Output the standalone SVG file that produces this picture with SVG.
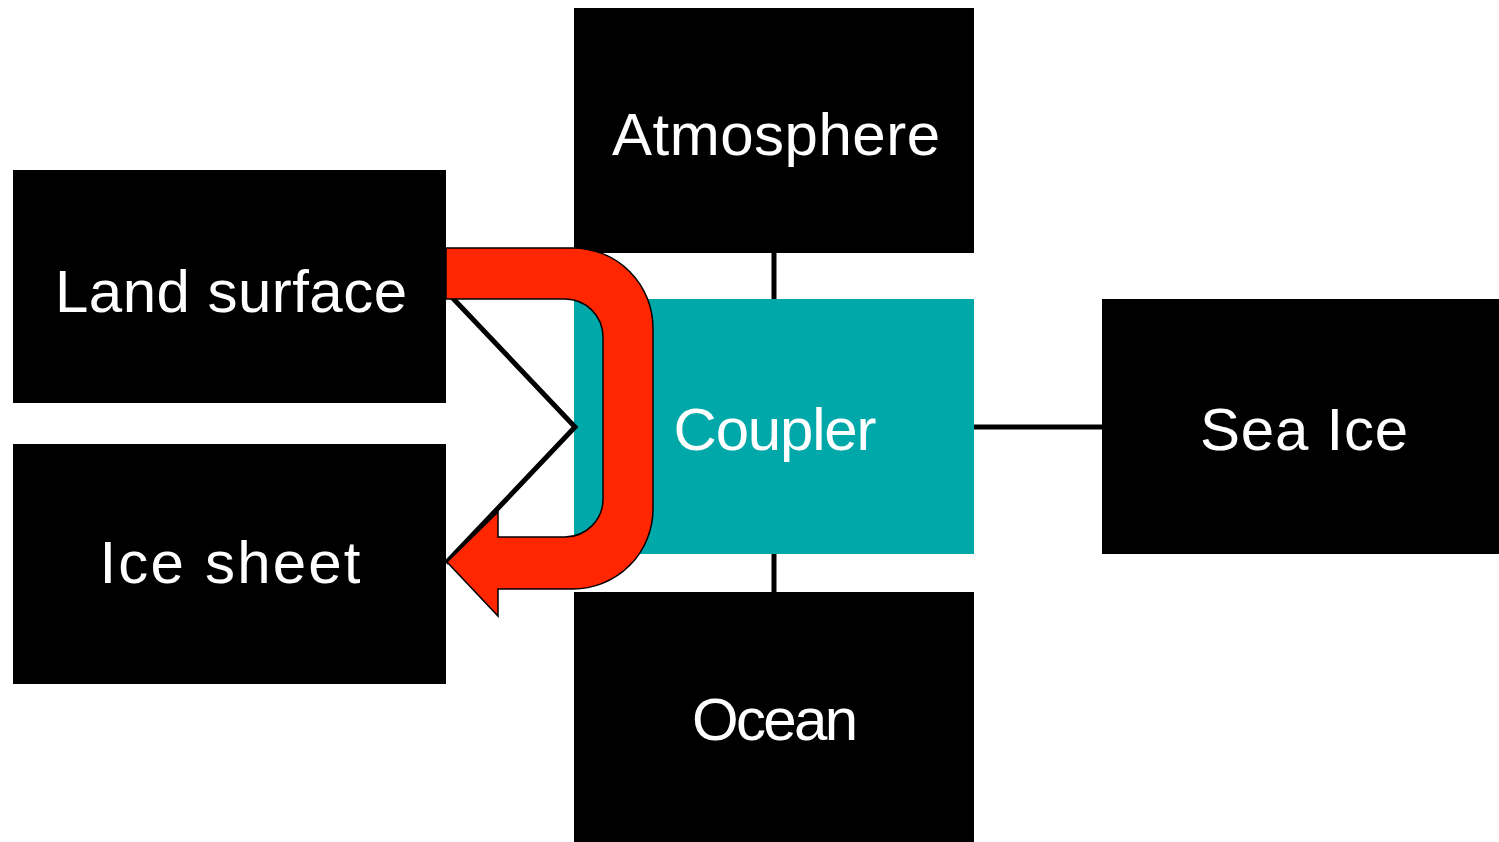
<svg xmlns="http://www.w3.org/2000/svg" width="1499" height="842" viewBox="0 0 1499 842">
<style>
.box{fill:#000}
.coupler{fill:#00A8AA}
.lbl{font-family:"Liberation Sans","DejaVu Sans",sans-serif;font-size:60px;fill:#fff;text-anchor:middle}
.conn{stroke:#000;stroke-width:5;fill:none}
.arrow{fill:#FF2600;stroke:#000;stroke-width:1.5;stroke-linejoin:miter}
</style>
<rect width="1499" height="842" fill="#fff"/>
<g id="atmosphere"><rect class="box" x="574" y="8" width="400" height="245"/><text class="lbl" x="776" y="155" textLength="328">Atmosphere</text></g>
<g id="coupler"><rect class="coupler" x="574" y="299" width="400" height="255"/><text class="lbl" x="775" y="450" textLength="203">Coupler</text></g>
<g id="ocean"><rect class="box" x="574" y="592" width="400" height="250"/><text class="lbl" x="775" y="740" textLength="166">Ocean</text></g>
<g id="sea-ice"><rect class="box" x="1102" y="299" width="397" height="255"/><text class="lbl" x="1304" y="450" textLength="208">Sea Ice</text></g>
<g id="land-surface"><rect class="box" x="13" y="170" width="433" height="233"/><text class="lbl" x="231" y="312" textLength="352">Land surface</text></g>
<g id="ice-sheet"><rect class="box" x="13" y="444" width="433" height="240"/><text class="lbl" x="230" y="583" textLength="261">Ice sheet</text></g>
<g id="connectors">
<line class="conn" x1="774" y1="253" x2="774" y2="299"/>
<line class="conn" x1="774" y1="554" x2="774" y2="592"/>
<line class="conn" x1="974" y1="427" x2="1102" y2="427"/>
<polyline class="conn" points="446,291 575,427 446,563"/>
<path class="arrow" d="M446,248 L573,248 A80,80 0 0 1 653,328 L653,509 A80,80 0 0 1 573,589 L498,589 L498,616 L447,562 L498,512 L498,537 L565,537 A38,38 0 0 0 603,499 L603,337 A38,38 0 0 0 565,299 L446,299 Z"/>
</g>
</svg>
